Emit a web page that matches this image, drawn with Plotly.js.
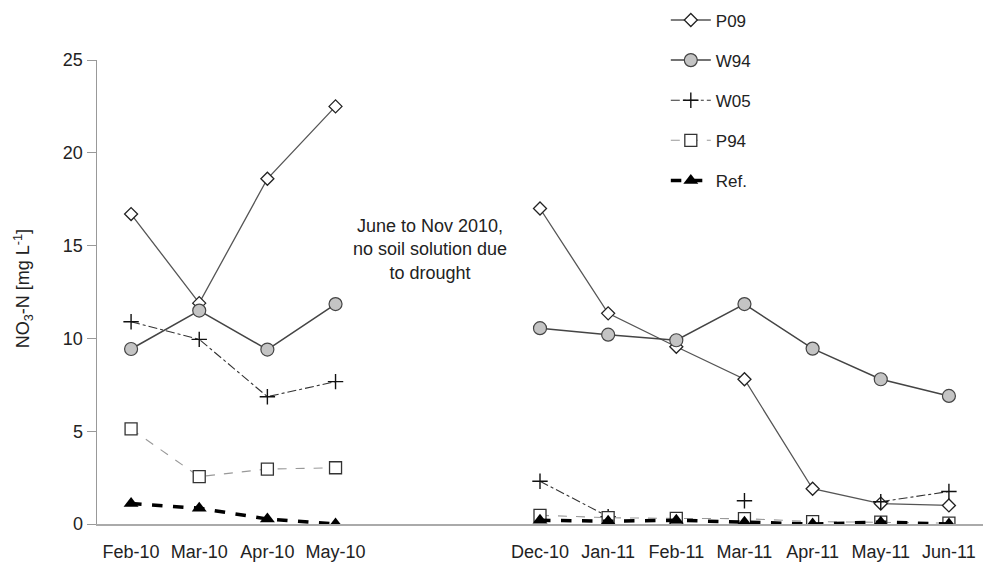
<!DOCTYPE html>
<html>
<head>
<meta charset="utf-8">
<script src="https://cdn.plot.ly/plotly-3.0.1.min.js"></script>
<style>html,body{margin:0;padding:0;background:#fff;}#chart{width:994px;height:563px;}</style>
</head>
<body>
<div id="chart"></div>
<script>
// Categories (two blank slots stand for the Jun–Nov 2010 gap)
var months = ['Feb-10','Mar-10','Apr-10','May-10',' ','  ','Dec-10','Jan-11','Feb-11','Mar-11','Apr-11','May-11','Jun-11'];

var P09 = [16.7, 11.9, 18.6, 22.5, null, null, 17.0, 11.35, 9.55, 7.8, 1.9, 1.1, 1.0];
var W94 = [9.43, 11.5, 9.4, 11.85, null, null, 10.55, 10.2, 9.9, 11.85, 9.45, 7.8, 6.9];
var W05 = [10.9, 9.95, 6.86, 7.67, null, null, 2.3, 0.4, null, 1.25, null, 1.2, 1.75];
var P94 = [5.12, 2.55, 2.96, 3.03, null, null, 0.47, 0.34, 0.3, 0.29, 0.13, 0.1, 0.05];
var REF = [1.1, 0.85, 0.27, 0.0, null, null, 0.2, 0.15, 0.2, 0.1, 0.0, 0.1, 0.0];

var seriesNames = ['P09','W94','W05','P94','Ref.'];
var noteText = 'June to Nov 2010,<br>no soil solution due<br>to drought';
var yTitle = 'NO<sub>3</sub>-N [mg L<sup>-1</sup>]';

var traces = [
  {x: months, y: P09, name: seriesNames[0], legendgroup: 'a', mode: 'lines+markers',
   line: {color: '#555', width: 1.3},
   marker: {symbol: 'diamond', size: 10, color: '#fff', line: {color: '#222', width: 1.3}}},
  {x: months, y: W94, name: seriesNames[1], legendgroup: 'b', mode: 'lines+markers',
   line: {color: '#444', width: 1.5},
   marker: {symbol: 'circle', size: 13, color: '#c4c4c4', line: {color: '#444', width: 1.2}}},
  {x: months, y: W05, name: seriesNames[2], legendgroup: 'c', mode: 'lines+markers',
   line: {color: '#333', width: 1.1, dash: 'dashdot'},
   marker: {symbol: 'cross-thin', size: 11, color: '#111', line: {color: '#111', width: 1.4}}},
  {x: months, y: P94, name: seriesNames[3], legendgroup: 'd', mode: 'lines+markers',
   line: {color: '#999', width: 1.1, dash: 'dash'},
   marker: {symbol: 'square', size: 12, color: '#fff', line: {color: '#333', width: 1.3}}},
  {x: months, y: REF, name: seriesNames[4], legendgroup: 'e', mode: 'lines+markers',
   line: {color: '#000', width: 3.5, dash: 'dash'},
   marker: {symbol: 'triangle-up', size: 13, color: '#000'}}
];

var layout = {
  width: 994, height: 563,
  margin: {l: 97, r: 11, t: 60, b: 39, autoexpand: false},
  paper_bgcolor: '#fff', plot_bgcolor: '#fff',
  font: {family: 'Liberation Sans, Arial, sans-serif', size: 18, color: '#222'},
  showlegend: true,
  legend: {x: 0.642, xanchor: 'left', y: 1.124, yanchor: 'top', itemwidth: 40,
           tracegroupgap: 15, font: {size: 17, color: '#222'}, bgcolor: 'rgba(0,0,0,0)'},
  xaxis: {type: 'category', categoryorder: 'array', categoryarray: months,
          range: [-0.5, 12.5], showline: true, linecolor: '#aaa', linewidth: 1.5,
          showgrid: false, zeroline: false, ticks: '', ticklabelstandoff: 11,
          tickfont: {size: 18, color: '#222'}, fixedrange: true},
  yaxis: {range: [0, 25], dtick: 5, showline: true, linecolor: '#999', linewidth: 1.5,
          showgrid: false, zeroline: false, ticks: 'outside', ticklen: 9, tickcolor: '#999',
          tickfont: {size: 18, color: '#222'}},
  annotations: [
    {xref: 'paper', yref: 'y', x: 0.376, y: 14.8, text: noteText,
     showarrow: false, align: 'center', font: {size: 18, color: '#222'}},
    {xref: 'paper', yref: 'paper', x: -0.0835, y: 0.506, xanchor: 'center', yanchor: 'middle',
     text: yTitle, textangle: -90, showarrow: false, font: {size: 18, color: '#222'}}
  ]
};

Plotly.newPlot('chart', traces, layout, {displayModeBar: false, staticPlot: true});
</script>
</body>
</html>
